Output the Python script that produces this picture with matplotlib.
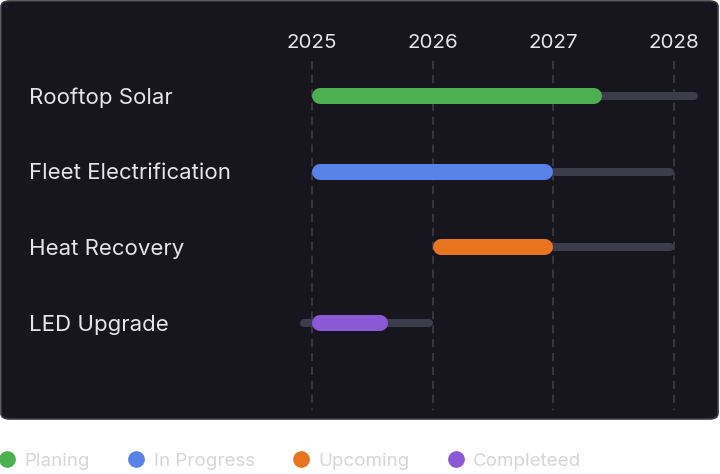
import matplotlib
matplotlib.use("Agg")
import matplotlib.pyplot as plt
from matplotlib.patches import FancyBboxPatch
from matplotlib.lines import Line2D

plt.rcParams['font.family'] = ['Inter', 'DejaVu Sans']

projects = ['Rooftop Solar', 'Fleet Electrification', 'Heat Recovery', 'LED Upgrade']
track_start = [2025.0, 2025.0, 2026.0, 2024.9]
track_end = [2028.2, 2028.0, 2028.0, 2026.0]
bar_start = [2025.0, 2025.0, 2026.0, 2025.0]
bar_end = [2027.4, 2027.0, 2027.0, 2025.63]
statuses = ['Planing', 'In Progress', 'Upcoming', 'Completeed']
years = [2025, 2026, 2027, 2028]

colors = ['#4caf50', '#5782e6', '#e8741f', '#8b58d6']
bg = '#17161f'
track_col = '#3c3c4a'
grid_col = '#3a3a45'
text_col = '#e4e4ea'

W, H = 720, 474
fig = plt.figure(figsize=(W / 100, H / 100), dpi=100, facecolor='white')

ax = fig.add_axes([0, 0, 1, 1])
ax.set_facecolor('none')
ax.axis('off')

# dark rounded panel behind everything
panel = FancyBboxPatch((1 / W, 1 - 419 / H), 717 / W, 418 / H,
                       boxstyle='round,pad=0,rounding_size=0.012',
                       transform=fig.transFigure, facecolor=bg,
                       edgecolor='#3b3b42', linewidth=1.2, zorder=0)
ax.add_patch(panel)

px_year = 120.67
x0 = 2025 - 312 / px_year
ax.set_xlim(x0, x0 + W / px_year)
row_px = 75.67
y0 = -96 / row_px
ax.set_ylim(y0 + H / row_px, y0)
nudge = 1.5 / row_px  # small downward shift for text centring

# dashed year gridlines + year labels
for yr in years:
    ax.plot([yr, yr], [y0 + 61 / row_px, y0 + 410 / row_px], color=grid_col,
            lw=1.3, ls=(0, (4.5, 3.2)), zorder=1)
    ax.text(yr, y0 + 41 / row_px + nudge, str(yr), color=text_col, fontsize=14.8,
            ha='center', va='center', zorder=3)

# bars with rounded caps; pull endpoints in by half the line width
half_thick = 8 / px_year
half_thin = 4 / px_year
for i, name in enumerate(projects):
    ax.plot([track_start[i] + half_thin, track_end[i] - half_thin], [i, i],
            color=track_col, lw=8 * 0.72, solid_capstyle='round', zorder=2)
    ax.plot([bar_start[i] + half_thick, bar_end[i] - half_thick], [i, i],
            color=colors[i], lw=16 * 0.72, solid_capstyle='round', zorder=3)
    ax.text(29 / W, i + nudge, name, transform=ax.get_yaxis_transform(),
            color=text_col, fontsize=16, ha='left', va='center')

handles = [Line2D([], [], ls='none', marker='o', markersize=11,
                  markerfacecolor=c, markeredgecolor=c) for c in colors]
leg = fig.legend(handles, statuses, loc='center left',
                 bbox_to_anchor=(0.0, 1 - 461 / H), ncol=4, frameon=False,
                 fontsize=13.5, handlelength=0.7, handletextpad=0.6,
                 columnspacing=2.1, borderpad=0, borderaxespad=0)
for t in leg.get_texts():
    t.set_color('#d6d6d9')

fig.savefig('out.png', dpi=100, facecolor='white')
